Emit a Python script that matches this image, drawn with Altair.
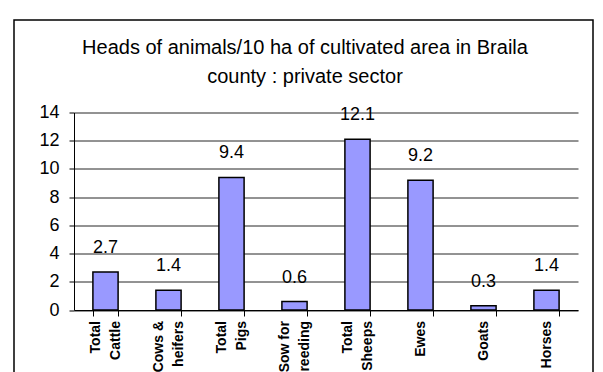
import altair as alt
import pandas as pd

categories = ["Total|Cattle", "Cows &|heifers", "Total|Pigs", "Sow for|breeding",
              "Total|Sheeps", "Ewes", "Goats", "Horses"]
values = [2.7, 1.4, 9.4, 0.6, 12.1, 9.2, 0.3, 1.4]
title_lines = ["Heads of animals/10 ha of cultivated area in Braila", "county : private sector"]
y_ticks = [0, 2, 4, 6, 8, 10, 12, 14]

df = pd.DataFrame({"cat": categories, "val": values})
FONT = "Liberation Sans"

x_enc = alt.X("cat:N", sort=categories, title=None,
              scale=alt.Scale(paddingInner=0.6, paddingOuter=0.3),
              axis=alt.Axis(labels=False, tickBand="extent", tickSize=6, tickColor="black",
                            domainColor="black", grid=False))
y_scale = alt.Scale(domain=[0, 14], nice=False)
y_axis = alt.Axis(values=y_ticks, labelFontSize=18, labelFont=FONT,
                  labelColor="black", labelPadding=10, tickSize=5,
                  labelOverlap=False, labelFlush=False,
                  tickColor="black", domainColor="black",
                  grid=True, gridColor="black", gridOpacity=0.85)
y_enc = alt.Y("val:Q", title=None, scale=y_scale, axis=y_axis)
y_zero = alt.YDatum(0, type="quantitative", title=None, scale=y_scale, axis=y_axis)

base = alt.Chart(df)
bars = base.mark_bar(color="#9999FF", stroke="black", strokeWidth=1.5).encode(x=x_enc, y=y_enc)
labels = base.mark_text(font=FONT, fontSize=18, color="black", baseline="alphabetic",
                        dy=-19).encode(x=x_enc, y=y_enc,
                                       text=alt.Text("val:Q", format=".1f"))

lab_style = dict(font=FONT, fontSize=14, fontWeight="bold", color="black", angle=270,
                 align="right", baseline="middle", lineBreak="|", lineHeight=20, dx=-11)
xlab2 = base.transform_filter("indexof(datum.cat, '|') >= 0").mark_text(
    dy=-10, **lab_style).encode(x=x_enc, y=y_zero, text="cat:N")
xlab1 = base.transform_filter("indexof(datum.cat, '|') < 0").mark_text(
    dy=0, **lab_style).encode(x=x_enc, y=y_zero, text="cat:N")

one = pd.DataFrame({"f": [0]})
frame = alt.Chart(one).mark_rect(
    fill="transparent", stroke="black", strokeWidth=1.5, clip=False
).encode(x=alt.value(-60), x2=alt.value(519), y=alt.value(-92.5), y2=alt.value(400))
title = alt.Chart(one).mark_text(
    text=title_lines, font=FONT, fontSize=20, color="black", align="center",
    baseline="alphabetic", lineHeight=29
).encode(x=alt.value(231), y=alt.value(-58.5))

chart = alt.layer(frame, bars, labels, xlab2, xlab1, title).properties(
    width=504, height=197.5,
    autosize=alt.AutoSizeParams(type="none"),
    padding={"left": 66, "top": 104.5, "right": 17, "bottom": 62},
).configure_view(stroke="transparent")

chart.save("out.html", embed_options={"renderer": "svg", "actions": False})
